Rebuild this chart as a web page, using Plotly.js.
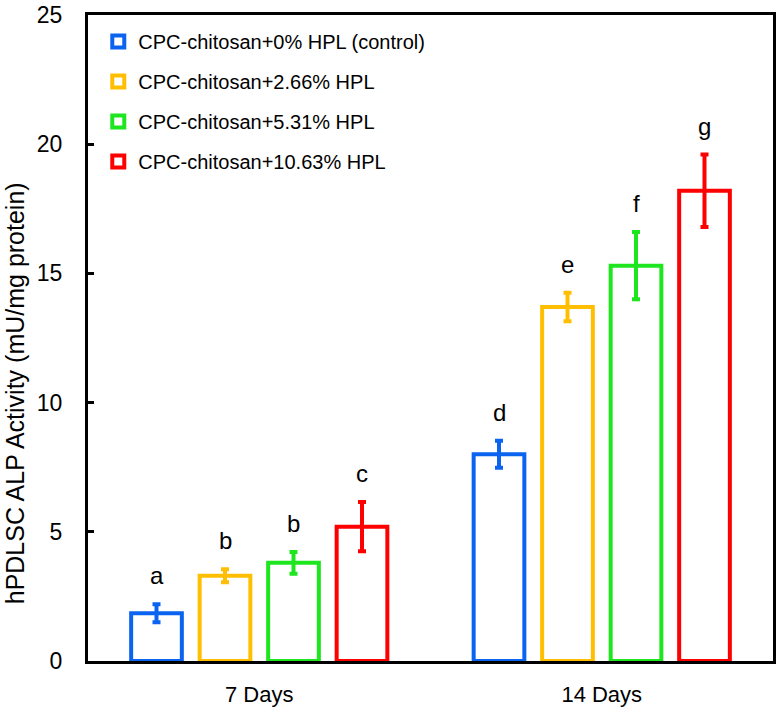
<!DOCTYPE html>
<html>
<head>
<meta charset="utf-8">
<script src="https://cdn.plot.ly/plotly-3.0.1.min.js"></script>
<style>
  body { margin: 0; background: #fff; }
  #chart { width: 778px; height: 712px; }
</style>
</head>
<body>
<div id="chart"></div>
<script>
const days = ['7 Days', '14 Days'];
const seriesNames = [
  'CPC-chitosan+0% HPL (control)',
  'CPC-chitosan+2.66% HPL',
  'CPC-chitosan+5.31% HPL',
  'CPC-chitosan+10.63% HPL'
];
const seriesColors = ['#0a64f0', '#ffbf00', '#1ee61e', '#ff0000'];

const control = [1.85, 8.0];
const hpl266 = [3.3, 13.7];
const hpl531 = [3.8, 15.3];
const hpl1063 = [5.2, 18.2];

const controlErr = [0.35, 0.52];
const hpl266Err = [0.25, 0.55];
const hpl531Err = [0.42, 1.3];
const hpl1063Err = [0.95, 1.4];

const controlLetters = ['a', 'd'];
const hpl266Letters = ['b', 'e'];
const hpl531Letters = ['b', 'f'];
const hpl1063Letters = ['c', 'g'];

const yTicks = [0, 5, 10, 15, 20, 25];
const yTitle = 'hPDLSC ALP Activity (mU/mg protein)';

const values = [control, hpl266, hpl531, hpl1063];
const errors = [controlErr, hpl266Err, hpl531Err, hpl1063Err];
const letters = [controlLetters, hpl266Letters, hpl531Letters, hpl1063Letters];

const font = 'Arial, "Liberation Sans", sans-serif';
const bargap = 0.2;

const traces = values.map((vals, i) => ({
  type: 'bar',
  name: seriesNames[i],
  x: days,
  y: vals,
  legendgroup: 'g' + i,
  marker: {
    color: 'rgba(255,255,255,0)',
    line: { color: seriesColors[i], width: 4 }
  },
  error_y: {
    type: 'data',
    array: errors[i],
    visible: true,
    color: seriesColors[i],
    thickness: 4,
    width: 4
  }
}));

// letters above each error bar
const slot = (1 - bargap) / values.length;
const annotations = [];
values.forEach((vals, i) => {
  vals.forEach((v, j) => {
    annotations.push({
      x: j + (i - (values.length - 1) / 2) * slot,
      y: v + errors[i][j],
      xref: 'x',
      yref: 'y',
      text: letters[i][j],
      showarrow: false,
      yanchor: 'bottom',
      yshift: 13,
      font: { family: font, size: 24, color: '#000' }
    });
  });
});

// y title sits a bit below the plot middle in the original
annotations.push({
  x: -0.107,
  y: 0.414,
  xref: 'paper',
  yref: 'paper',
  text: yTitle,
  textangle: -90,
  showarrow: false,
  xanchor: 'center',
  yanchor: 'middle',
  font: { family: font, size: 25, color: '#000' }
});

const layout = {
  width: 778,
  height: 712,
  margin: { l: 88, r: 5, t: 15, b: 51 },
  paper_bgcolor: '#fff',
  plot_bgcolor: '#fff',
  barmode: 'group',
  bargap: bargap,
  bargroupgap: 0.26,
  showlegend: true,
  legend: {
    x: 0.015,
    y: 0.989,
    xanchor: 'left',
    yanchor: 'top',
    traceorder: 'grouped',
    tracegroupgap: 11,
    bgcolor: 'rgba(0,0,0,0)',
    font: { family: font, size: 20, color: '#000' }
  },
  xaxis: {
    showline: true,
    linecolor: '#000',
    linewidth: 3,
    mirror: true,
    ticks: '',
    showgrid: false,
    zeroline: false,
    ticklabelstandoff: 12,
    tickfont: { family: font, size: 22, color: '#000' }
  },
  yaxis: {
    range: [0, 25],
    tickmode: 'array',
    tickvals: yTicks,
    ticktext: yTicks.map(String),
    ticklabeloverflow: 'allow',
    showline: true,
    linecolor: '#000',
    linewidth: 3,
    mirror: true,
    ticks: 'inside',
    ticklen: 6,
    tickwidth: 3,
    tickcolor: '#000',
    showgrid: false,
    zeroline: false,
    ticklabelstandoff: 18,
    tickfont: { family: font, size: 23, color: '#000' }
  },
  annotations: annotations
};

Plotly.newPlot('chart', traces, layout, { displayModeBar: false, staticPlot: true });
</script>
</body>
</html>
